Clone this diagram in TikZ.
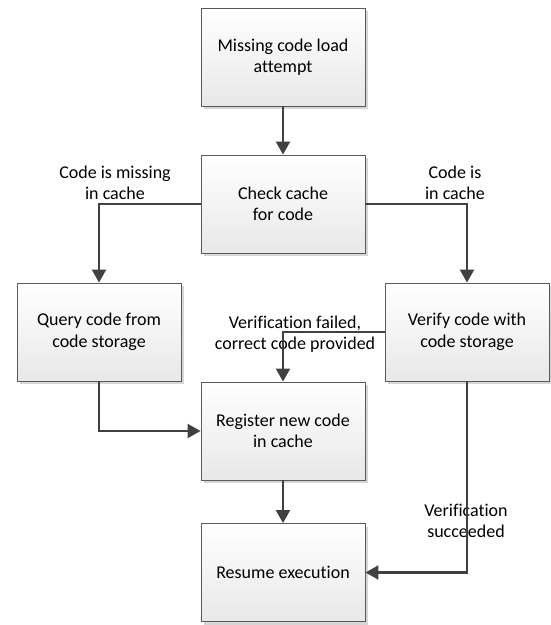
\documentclass[tikz,border=0pt]{standalone}
\usepackage{fontspec}
\setmainfont[Ligatures=NoCommon]{Carlito}
\usetikzlibrary{arrows.meta,shadows}
\definecolor{edgegray}{HTML}{404040}
\definecolor{boxline}{HTML}{5A5A5A}
\tikzset{
  procbox/.style={draw=boxline, line width=0.9pt, minimum width=164pt, minimum height=98pt,
    top color=white, bottom color=black!9, align=center, inner sep=0pt,
    font=\fontsize{18}{21.5}\selectfont,
    drop shadow={shadow xshift=3pt, shadow yshift=-3pt, fill=black!20, opacity=0.8}},
  conn/.style={draw=edgegray, line width=2.2pt, -{Triangle[length=13pt,width=14pt]}},
  lbl/.style={align=center, font=\fontsize{18}{21.5}\selectfont, inner sep=0pt}
}
\begin{document}
\begin{tikzpicture}[x=1pt,y=-1pt]
\useasboundingbox (0,0) rectangle (550,625);
\node[procbox] (load) at (283,57) {Missing code load\\attempt};
\node[procbox] (check) at (283,204) {Check cache\\for code};
\node[procbox] (query) at (99,332) {Query code from\\code storage};
\node[procbox] (verify) at (467,332) {Verify code with\\code storage};
\node[procbox] (reg) at (283,431) {Register new code\\in cache};
\node[procbox] (resume) at (283,572.5) {Resume execution};

\node[lbl] (l1) at (115,183) {Code is missing\\in cache};
\node[lbl] (l2) at (455,183) {Code is\\in cache};
\node[lbl] (l3) at (295,334) {Verification failed,\\correct code provided};
\node[lbl] (l4) at (466,521) {Verification\\succeeded};

\draw[conn] (load) -- (check);
\draw[conn] (check.west) -| (query.north);
\draw[conn] (check.east) -| (verify.north);
\draw[conn] (verify.west) -| (reg.north);
\draw[conn] (query.south) |- (reg.west);
\draw[conn] (reg) -- (resume);
\draw[conn] (verify.south) |- (resume.east);
\end{tikzpicture}
\end{document}
